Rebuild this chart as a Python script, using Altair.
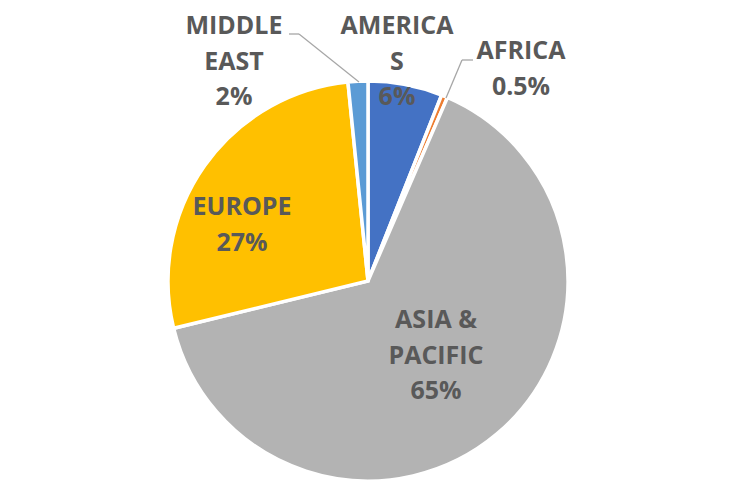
import altair as alt
import pandas as pd

# ---- data ----
regions = ["AMERICAS", "AFRICA", "ASIA & PACIFIC", "EUROPE", "MIDDLE EAST"]
shares = [6, 0.5, 64.7, 27.2, 1.6]
label_texts = ["AMERICA\nS\n6%", "AFRICA\n0.5%", "ASIA &\nPACIFIC\n65%", "EUROPE\n27%", "MIDDLE\nEAST\n2%"]

# ---- styling / layout ----
colors = ["#4472C4", "#ED7D31", "#B3B3B3", "#FFC000", "#5B9BD5"]
cx, cy, R = 360, 273, 200
label_pos = {
    "AMERICAS": (389, 18),
    "AFRICA": (513, 43),
    "ASIA & PACIFIC": (428, 312),
    "EUROPE": (234, 199),
    "MIDDLE EAST": (226, 18),
}
leaders = [
    (281, 26, 291, 26), (291, 26, 351, 74),
    (465, 52, 454, 52), (454, 52, 438, 90),
]

df = pd.DataFrame({"region": regions, "share": shares, "order": list(range(len(regions)))})

pie = alt.Chart(df).mark_arc(outerRadius=R, stroke="white", strokeWidth=3.5).encode(
    theta=alt.Theta("share:Q", stack=True),
    order=alt.Order("order:Q"),
    color=alt.Color("region:N", scale=alt.Scale(domain=regions, range=colors), legend=None),
    x=alt.value(cx),
    y=alt.value(cy),
)

lab_df = pd.DataFrame({
    "text": label_texts,
    "px": [label_pos[r][0] for r in regions],
    "py": [label_pos[r][1] for r in regions],
})
labels = alt.Chart(lab_df).mark_text(
    font="Open Sans", fontWeight="bold", fontSize=25, color="#595959",
    lineBreak="\n", lineHeight=35.5, align="center", baseline="middle",
).encode(
    x=alt.X("px:Q", scale=None),
    y=alt.Y("py:Q", scale=None),
    text="text:N",
)

seg_df = pd.DataFrame(leaders, columns=["x1", "y1", "x2", "y2"])
lines = alt.Chart(seg_df).mark_rule(color="#A6A6A6", strokeWidth=1.3).encode(
    x=alt.X("x1:Q", scale=None), y=alt.Y("y1:Q", scale=None),
    x2="x2:Q", y2="y2:Q",
)

chart = alt.layer(pie, lines, labels).properties(
    width=734, height=486, autosize=alt.AutoSizeParams(type="none"), padding=0,
).configure_view(stroke=None)

chart.save("out.html", embed_options={"renderer": "svg", "actions": False})
